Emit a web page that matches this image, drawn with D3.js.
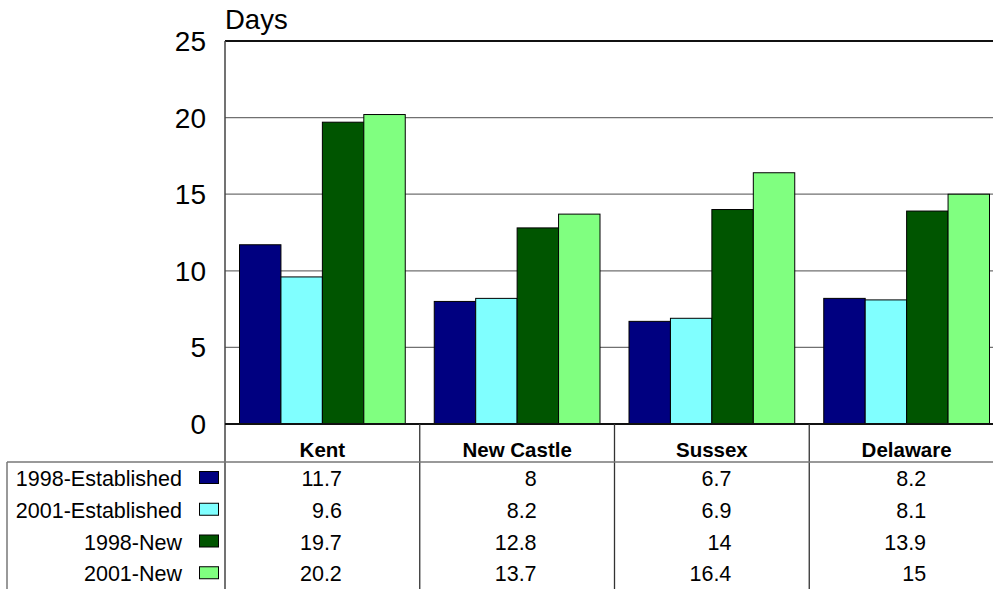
<!DOCTYPE html>
<html>
<head>
<meta charset="utf-8">
<script src="https://cdn.jsdelivr.net/npm/d3@7"></script>
<style>
  body { margin: 0; background: #fff; }
  text { font-family: "Liberation Sans", Arial, sans-serif; fill: #000; }
</style>
</head>
<body>
<svg id="mainsvg" width="993" height="589"></svg>
<script>
// data
const categories = ['Kent', 'New Castle', 'Sussex', 'Delaware'];
const seriesNames = ['1998-Established', '2001-Established', '1998-New', '2001-New'];
const est1998 = [11.7, 8, 6.7, 8.2];
const est2001 = [9.6, 8.2, 6.9, 8.1];
const new1998 = [19.7, 12.8, 14, 13.9];
const new2001 = [20.2, 13.7, 16.4, 15];
const yTicks = [0, 5, 10, 15, 20, 25];
const colors = ['#000080', '#80FFFF', '#005500', '#80FF80'];

const values = [est1998, est2001, new1998, new2001];

var svg = d3.select('#mainsvg'),
    plotLeft = 225, plotRight = 1004,
    plotTop = 41, plotBottom = 424,
    tableTop = 462, rowH = 31.75;

var y = d3.scaleLinear().domain([0, 25]).range([plotBottom, plotTop]);
var x0 = d3.scaleBand().domain(categories).range([plotLeft, plotRight]).padding(0);
var x1 = d3.scaleBand().domain(seriesNames).range([0, x0.bandwidth()])
    .paddingInner(0).paddingOuter(0.35);
var bw = x0.bandwidth();

// gridlines
svg.append('g').selectAll('line')
  .data(yTicks.filter(t => t > 0 && t < 25))
  .enter().append('line')
  .attr('x1', plotLeft).attr('x2', plotRight)
  .attr('y1', d => y(d)).attr('y2', d => y(d))
  .attr('stroke', '#707070').attr('stroke-width', 1.2)

// y tick labels
svg.append('g').selectAll('text')
  .data(yTicks)
  .enter().append('text')
  .attr('x', 206)
  .attr('y', d => y(d) + 10)
  .attr('text-anchor', 'end')
  .style('font-size', '28px')
  .text(d => d)

svg.append('text')
  .attr('x', 225).attr('y', 29)
  .style('font-size', '27.5px')
  .text('Days')

// bars
var groups = svg.append('g').selectAll('g')
  .data(categories)
  .enter().append('g')
  .attr('transform', d => 'translate(' + x0(d) + ',0)')

groups.selectAll('rect')
  .data((c, ci) => seriesNames.map((s, si) => ({s: s, si: si, v: values[si][ci]})))
  .enter().append('rect')
  .attr('x', d => x1(d.s))
  .attr('width', x1.bandwidth())
  .attr('y', d => y(d.v))
  .attr('height', d => y(0) - y(d.v))
  .attr('fill', d => colors[d.si])
  .attr('stroke', '#000').attr('stroke-width', 1)

// plot frame
svg.append('line')
  .attr('x1', plotLeft).attr('x2', plotRight)
  .attr('y1', plotTop).attr('y2', plotTop)
  .attr('stroke', '#111').attr('stroke-width', 2)
svg.append('line')
  .attr('x1', plotLeft).attr('x2', plotLeft)
  .attr('y1', plotTop).attr('y2', 589)
  .attr('stroke', '#444').attr('stroke-width', 1.5)
svg.append('line')
  .attr('x1', plotLeft).attr('x2', plotRight)
  .attr('y1', plotBottom).attr('y2', plotBottom)
  .attr('stroke', '#111').attr('stroke-width', 2)

// data table
var table = svg.append('g')

table.selectAll('.coldiv')
  .data(categories.slice(1))
  .enter().append('line')
  .attr('class', 'coldiv')
  .attr('x1', d => x0(d)).attr('x2', d => x0(d))
  .attr('y1', plotBottom).attr('y2', 589)
  .attr('stroke', '#333').attr('stroke-width', 1.3)

table.append('line')
  .attr('x1', 7).attr('x2', plotRight)
  .attr('y1', tableTop).attr('y2', tableTop)
  .attr('stroke', '#777').attr('stroke-width', 1.5)
table.append('line')
  .attr('x1', 7).attr('x2', 7)
  .attr('y1', tableTop).attr('y2', 589)
  .attr('stroke', '#777').attr('stroke-width', 1.5)

table.selectAll('.head')
  .data(categories)
  .enter().append('text')
  .attr('class', 'head')
  .attr('x', d => x0(d) + bw / 2)
  .attr('y', 457)
  .attr('text-anchor', 'middle')
  .style('font-size', '20.5px').style('font-weight', 'bold')
  .text(d => d)

var rows = table.selectAll('.row')
  .data(seriesNames)
  .enter().append('g')
  .attr('class', 'row')
  .attr('transform', (d, i) => 'translate(0,' + (tableTop + i * rowH) + ')')

rows.append('text')
  .attr('x', 182).attr('y', 24)
  .attr('text-anchor', 'end')
  .style('font-size', '21.5px')
  .text(d => d)

rows.append('rect')
  .attr('x', 199.5).attr('y', 9.5)
  .attr('width', 19).attr('height', 12)
  .attr('fill', (d, i) => colors[i])
  .attr('stroke', '#000').attr('stroke-width', 1)

rows.selectAll('.val')
  .data((s, si) => categories.map((c, ci) => ({c: c, v: values[si][ci]})))
  .enter().append('text')
  .attr('class', 'val')
  .attr('x', d => x0(d.c) + bw * 0.6)
  .attr('y', 24)
  .attr('text-anchor', 'end')
  .style('font-size', '21.5px')
  .text(d => d.v)
</script>
</body>
</html>
